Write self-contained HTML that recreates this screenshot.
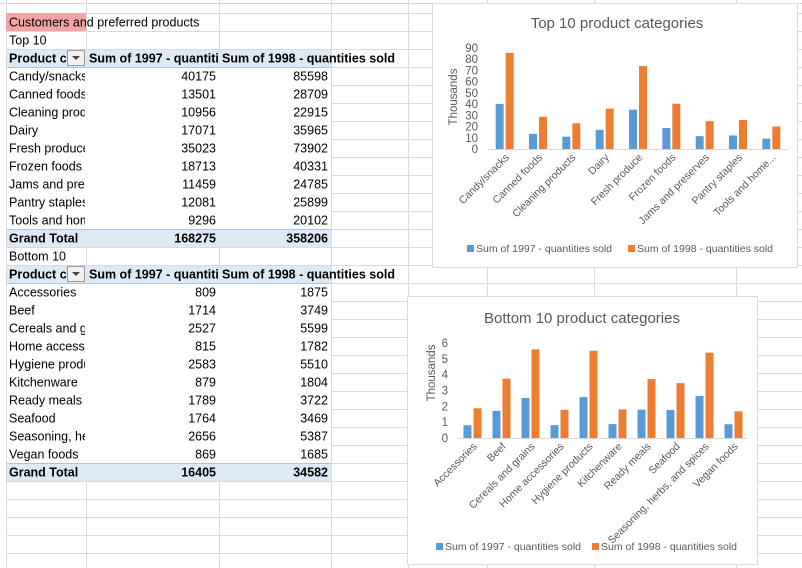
<!DOCTYPE html>
<html><head><meta charset="utf-8">
<style>
html,body{margin:0;padding:0;background:#fff;width:802px;height:568px;overflow:hidden}
svg{display:block}
text{font-family:"Liberation Sans",sans-serif}
</style></head>
<body>
<svg id="s" width="802" height="568" viewBox="0 0 802 568" xmlns="http://www.w3.org/2000/svg"></svg>
<script>
// Top 10 chart data
const topCats = ["Candy/snacks","Canned foods","Cleaning products","Dairy","Fresh produce","Frozen foods","Jams and preserves","Pantry staples","Tools and home..."];
const top1997 = [40175,13501,10956,17071,35023,18713,11459,12081,9296];
const top1998 = [85598,28709,22915,35965,73902,40331,24785,25899,20102];
const topTicks = [0,10,20,30,40,50,60,70,80,90];
// Bottom 10 chart data
const botCats = ["Accessories","Beef","Cereals and grains","Home accessories","Hygiene products","Kitchenware","Ready meals","Seafood","Seasoning, herbs, and spices","Vegan foods"];
const bot1997 = [809,1714,2527,815,2583,879,1789,1764,2656,869];
const bot1998 = [1875,3749,5599,1782,5510,1804,3722,3469,5387,1685];
const botTicks = [0,1,2,3,4,5,6];
// Table labels (clipped as in sheet)
const topRowLabels = ["Candy/snacks","Canned foods","Cleaning products","Dairy","Fresh produce","Frozen foods","Jams and preserves","Pantry staples","Tools and home"];
const botRowLabels = ["Accessories","Beef","Cereals and grains","Home accessories","Hygiene products","Kitchenware","Ready meals","Seafood","Seasoning, herbs","Vegan foods"];
const topTotals = [168275,358206];
const botTotals = [16405,34582];

const NS="http://www.w3.org/2000/svg";
const s=document.getElementById('s');
function el(tag,attrs,parent,txt){const e=document.createElementNS(NS,tag);for(const k in attrs)e.setAttribute(k,attrs[k]);if(txt!==undefined)e.textContent=txt;(parent||s).appendChild(e);return e;}

const defs=el('defs',{});
[[6,86,'cA'],[86,219,'cB'],[219,331,'cC'],[331,500,'cD']].forEach(c=>{const cp=el('clipPath',{id:c[2]},defs);el('rect',{x:c[0]+1,y:0,width:c[1]-c[0]-2,height:568},cp);});

// grid (skipping pivot table interiors)
const grid=el('g',{});


const rt=i=>13+18*i;
const inTable=k=>(k>=3&&k<=12)||(k>=15&&k<=25);
el('line',{x1:0,x2:802,y1:3.5,y2:3.5,stroke:'#d4d4d4'},grid);
for(let k=0;k<32;k++){const xs=inTable(k)?331:6;el('line',{x1:xs,x2:802,y1:rt(k)+0.5,y2:rt(k)+0.5,stroke:'#dadada'},grid);}
[6,331,408,487,594,736].forEach(x=>el('line',{x1:x+0.5,x2:x+0.5,y1:0,y2:568,stroke:'#dadada'},grid));
[86,219].forEach(x=>{
 [[0,rt(2)],[rt(13),rt(14)],[rt(26),568]].forEach(seg=>el('line',{x1:x+0.5,x2:x+0.5,y1:seg[0],y2:seg[1],stroke:'#dadada'},grid));
});

// fills
el('rect',{x:6,y:rt(0),width:80,height:18,fill:'#f4a3a3'});
[2,12,14,25].forEach(r=>el('rect',{x:7,y:rt(r)+1,width:324,height:17,fill:'#dde9f5'}));
[3,15,12,25].forEach(r=>el('line',{x1:7,x2:331,y1:rt(r)+0.5,y2:rt(r)+0.5,stroke:'#a9c3e0'}));

function cellText(r,col,t,opts){opts=opts||{};
 const xs={A:[9,'start','cA'],B:[216,'end','cB'],C:[328,'end','cC'],BL:[89,'start','cB']};
 const c=xs[col];
 const e=el('text',{x:c[0],y:rt(r)+13.5,'text-anchor':c[1],'font-size':'12.5','font-weight':opts.bold?'bold':'normal',fill:'#000','clip-path':'url(#'+c[2]+')'},s,t);
 
 
 return e;}
el('text',{x:9,y:rt(0)+13.5,'font-size':'12.5',fill:'#000',},s,'Customers and preferred products');
cellText(1,'A','Top 10',{name:'top10-label'});
function header(r){
 cellText(r,'A','Product category',{bold:true,name:'header-product-category'});
 const b=el('g',{});
 el('rect',{x:67.5,y:rt(r)+1.5,width:17,height:15,fill:'#f0f0f0',stroke:'#999'},b);
 el('polygon',{points:`${72},${rt(r)+7} ${80},${rt(r)+7} ${76},${rt(r)+11}`,fill:'#444'},b);
 cellText(r,'BL','Sum of 1997 - quantities sold',{bold:true,name:'header-1997'});
 el('text',{x:222,y:rt(r)+13.5,'font-size':'12.5','font-weight':'bold',fill:'#000',},s,'Sum of 1998 - quantities sold');
}
header(2);
topRowLabels.forEach((l,i)=>{cellText(3+i,'A',l,{name:'row-label'});cellText(3+i,'B',String(top1997[i]),{name:'value-1997'});cellText(3+i,'C',String(top1998[i]),{name:'value-1998'});});
cellText(12,'A','Grand Total',{bold:true,name:'grand-total-label'});cellText(12,'B',String(topTotals[0]),{bold:true,name:'grand-total-1997'});cellText(12,'C',String(topTotals[1]),{bold:true,name:'grand-total-1998'});
cellText(13,'A','Bottom 10',{name:'bottom10-label'});
header(14);
botRowLabels.forEach((l,i)=>{cellText(15+i,'A',l,{name:'row-label'});cellText(15+i,'B',String(bot1997[i]),{name:'value-1997'});cellText(15+i,'C',String(bot1998[i]),{name:'value-1998'});});
cellText(25,'A','Grand Total',{bold:true,name:'grand-total-label'});cellText(25,'B',String(botTotals[0]),{bold:true,name:'grand-total-1997'});cellText(25,'C',String(botTotals[1]),{bold:true,name:'grand-total-1998'});

// charts
function chart(cfg){
 const g=el('g',{});
 
 
 el('rect',{x:cfg.box[0]+0.5,y:cfg.box[1]+0.5,width:cfg.box[2],height:cfg.box[3],fill:'#fff',stroke:'#d9d9d9'},g);
 const t=el('text',{x:cfg.titleX,y:cfg.titleY,'text-anchor':'middle','font-size':'15',fill:'#595959'},g,cfg.title);
 
 const maxV=cfg.ticks[cfg.ticks.length-1];
 const yS=v=>cfg.y0-(v/1000)/maxV*(cfg.y0-cfg.yTop);
 const yT=v=>cfg.y0-v/maxV*(cfg.y0-cfg.yTop);
 cfg.ticks.forEach(v=>{const tt=el('text',{x:cfg.x0-10,y:yT(v)+4,'text-anchor':'end','font-size':'11.5',fill:'#595959'},g,String(v));});
 const yl=el('text',{x:0,y:0,transform:`translate(${cfg.ylabX},${cfg.ylabY}) rotate(-90)`,'text-anchor':'middle','font-size':'11.5',fill:'#595959'},g,'Thousands');
 
 const n=cfg.cats.length,w=(cfg.x1-cfg.x0)/n;
 cfg.cats.forEach((c,i)=>{
  const cx=cfg.x0+w*(i+0.5);
  const b1=el('rect',{x:cx-9,y:yS(cfg.a[i]),width:8,height:cfg.y0-yS(cfg.a[i]),fill:'#5b9bd5'},g);
  
  const b2=el('rect',{x:cx+1,y:yS(cfg.b[i]),width:8,height:cfg.y0-yS(cfg.b[i]),fill:'#ed7d31'},g);
  
  const lt=el('text',{x:0,y:0,transform:`translate(${cx+5},${cfg.y0+9}) rotate(-45)`,'text-anchor':'end','font-size':'10.5',fill:'#595959'},g,c);
  
 });
 el('line',{x1:cfg.x0,x2:cfg.x1,y1:cfg.y0+0.5,y2:cfg.y0+0.5,stroke:'#d9d9d9'},g);
 const lg=el('g',{},g);
 el('rect',{x:cfg.leg[0],y:cfg.leg[2]-7,width:7,height:7,fill:'#5b9bd5'},lg);
 el('text',{x:cfg.leg[0]+9,y:cfg.leg[2],'font-size':'10.5',fill:'#595959'},lg,'Sum of 1997 - quantities sold');
 el('rect',{x:cfg.leg[1],y:cfg.leg[2]-7,width:7,height:7,fill:'#ed7d31'},lg);
 el('text',{x:cfg.leg[1]+9,y:cfg.leg[2],'font-size':'10.5',fill:'#595959'},lg,'Sum of 1998 - quantities sold');
}
chart({name:'top10-chart',box:[432,3,365,264],title:'Top 10 product categories',titleX:617,titleY:28,
 cats:topCats,a:top1997,b:top1998,ticks:topTicks,x0:488,x1:788,y0:149,yTop:48,ylabX:457,ylabY:97,leg:[467,628,252]});
chart({name:'bottom10-chart',box:[407,296,350,268],title:'Bottom 10 product categories',titleX:582,titleY:323,
 cats:botCats,a:bot1997,b:bot1998,ticks:botTicks,x0:458,x1:748,y0:438,yTop:343,ylabX:435,ylabY:373,leg:[436,592,550]});
</script>
</body></html>
